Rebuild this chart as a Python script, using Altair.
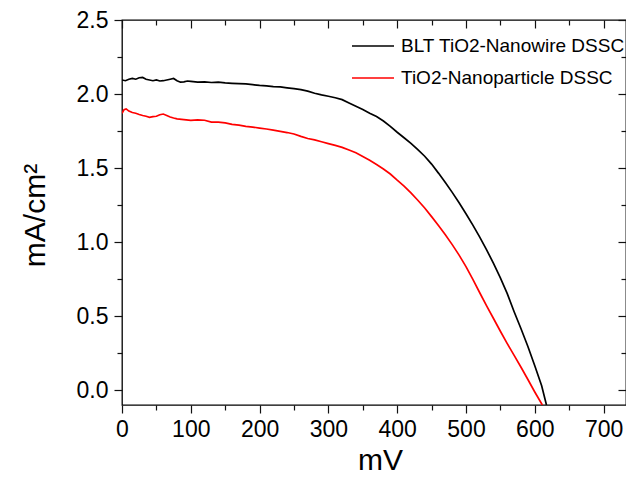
import altair as alt
import pandas as pd

# ---- data ----
series_names = ["BLT TiO2-Nanowire DSSC", "TiO2-Nanoparticle DSSC"]
series_colors = ["#000000", "#ff0000"]

nw_mv = [0, 5, 10, 15, 20, 25, 30, 35, 40, 45, 50, 55, 60, 65, 70, 75, 80, 85, 90, 95,
         100, 110, 120, 130, 140, 150, 160, 170, 180, 190, 200, 210, 220, 230, 240, 250,
         260, 270, 280, 290, 300, 310, 320, 330, 340, 350, 360, 370, 380, 390, 400, 410,
         420, 430, 440, 450, 460, 470, 480, 490, 500, 510, 520, 530, 540, 550, 560, 570,
         580, 590, 600, 610, 617]
nw_ma = [2.095, 2.09, 2.10, 2.105, 2.10, 2.11, 2.112, 2.10, 2.095, 2.09, 2.095, 2.088, 2.09,
         2.095, 2.10, 2.105, 2.09, 2.08, 2.082, 2.088, 2.085, 2.08, 2.082, 2.078, 2.08, 2.075,
         2.072, 2.07, 2.068, 2.063, 2.058, 2.055, 2.05, 2.048, 2.042, 2.036, 2.03, 2.02, 2.005,
         1.994, 1.985, 1.975, 1.962, 1.94, 1.918, 1.895, 1.87, 1.848, 1.818, 1.782, 1.742,
         1.705, 1.667, 1.625, 1.58, 1.527, 1.466, 1.402, 1.336, 1.266, 1.192, 1.115, 1.034,
         0.948, 0.856, 0.758, 0.652, 0.53, 0.415, 0.295, 0.165, 0.03, -0.1]

np_mv = [0, 3, 6, 10, 15, 20, 25, 30, 35, 40, 45, 50, 55, 60, 65, 70, 75, 80, 90, 100, 110,
         120, 130, 140, 150, 160, 170, 180, 190, 200, 210, 220, 230, 240, 250, 260, 270, 280,
         290, 300, 310, 320, 330, 340, 350, 360, 370, 380, 390, 400, 410, 420, 430, 440, 450,
         460, 470, 480, 490, 500, 510, 520, 530, 540, 550, 560, 570, 580, 590, 600, 611]
np_ma = [1.87, 1.895, 1.90, 1.885, 1.875, 1.87, 1.862, 1.855, 1.85, 1.843, 1.848, 1.85, 1.86,
         1.865, 1.855, 1.845, 1.838, 1.832, 1.827, 1.822, 1.825, 1.823, 1.81, 1.81, 1.805,
         1.795, 1.79, 1.782, 1.777, 1.77, 1.764, 1.756, 1.748, 1.74, 1.73, 1.714, 1.7, 1.69,
         1.678, 1.665, 1.653, 1.64, 1.622, 1.603, 1.578, 1.553, 1.524, 1.494, 1.46, 1.418,
         1.378, 1.332, 1.283, 1.23, 1.172, 1.112, 1.05, 0.983, 0.912, 0.835, 0.748, 0.658,
         0.57, 0.484, 0.398, 0.315, 0.235, 0.155, 0.072, -0.012, -0.1]

x_major = [0, 100, 200, 300, 400, 500, 600, 700]
x_minor = [50, 150, 250, 350, 450, 550, 650]
y_major = [0.0, 0.5, 1.0, 1.5, 2.0, 2.5]
y_minor = [0.25, 0.75, 1.25, 1.75, 2.25]

df = pd.concat([
    pd.DataFrame({"mV": nw_mv, "mA": nw_ma, "series": series_names[0], "idx": range(len(nw_mv))}),
    pd.DataFrame({"mV": np_mv, "mA": np_ma, "series": series_names[1], "idx": range(len(np_mv))}),
], ignore_index=True)

FONT = "Liberation Sans"
TC = "#111111"
xs = alt.Scale(domain=[0, 732.6], nice=False, zero=False)
ys = alt.Scale(domain=[-0.1, 2.5], nice=False, zero=False)


def ax(orient, values, size, **kw):
    base = dict(orient=orient, values=values, tickSize=size, tickColor=TC, tickWidth=1.2,
                domain=False, grid=False, labels=False, title=None)
    base.update(kw)
    return alt.Axis(**base)


lines = alt.Chart(df).mark_line(strokeWidth=1.7, clip=True).encode(
    x=alt.X("mV:Q", scale=xs, axis=ax(
        "bottom", x_major, 8, labels=True, format="d", labelFont=FONT, labelFontSize=23,
        labelColor="#000", labelPadding=5, labelFlush=False, labelOverlap=False,
        title="mV", titleFont=FONT, titleFontSize=30, titleFontWeight="normal",
        titleColor="#000", titleBaseline="alphabetic", titleY=64, titleX=258)),
    y=alt.Y("mA:Q", scale=ys, axis=ax(
        "left", y_major, 8, labels=True, format=".1f", labelFont=FONT, labelFontSize=23,
        labelColor="#000", labelPadding=6, labelFlush=False, labelOverlap=False,
        title="mA/cm²", titleFont=FONT, titleFontSize=30, titleFontWeight="normal",
        titleColor="#000", titleBaseline="alphabetic", titleX=-78, titleY=195,
        titleAngle=270, titleAlign="center")),
    color=alt.Color("series:N", scale=alt.Scale(domain=series_names, range=series_colors),
                    legend=alt.Legend(orient="none", legendX=229, legendY=4, title=None,
                                      symbolType="stroke", symbolSize=1764,
                                      symbolStrokeWidth=1.7, labelFont=FONT,
                                      labelFontSize=19, labelColor="#000", labelLimit=400,
                                      labelOffset=6, padding=0, rowPadding=-17.5)),
    order="idx:Q",
)


def axis_layer(xaxis, yaxis):
    return alt.Chart(df).mark_point(opacity=0).encode(
        x=alt.X("mV:Q", scale=xs, axis=xaxis),
        y=alt.Y("mA:Q", scale=ys, axis=yaxis),
    )


minor_out = axis_layer(ax("bottom", x_minor, 5), ax("left", y_minor, 5))
major_in = axis_layer(ax("top", x_major, alt.ExprRef("-8")), ax("right", y_major, alt.ExprRef("-8")))
minor_in = axis_layer(ax("top", x_minor, alt.ExprRef("-5")), ax("right", y_minor, alt.ExprRef("-5")))

chart = alt.layer(lines, minor_out, major_in, minor_in).resolve_axis(
    x="independent", y="independent"
).properties(
    width=504, height=385,
    autosize=alt.AutoSizeParams(type="none"),
    padding={"left": 114, "top": 12, "right": 0, "bottom": 70},
).configure_view(stroke="#000", strokeWidth=1.3)

chart.save("out.html", embed_options={"renderer": "svg", "actions": False})
